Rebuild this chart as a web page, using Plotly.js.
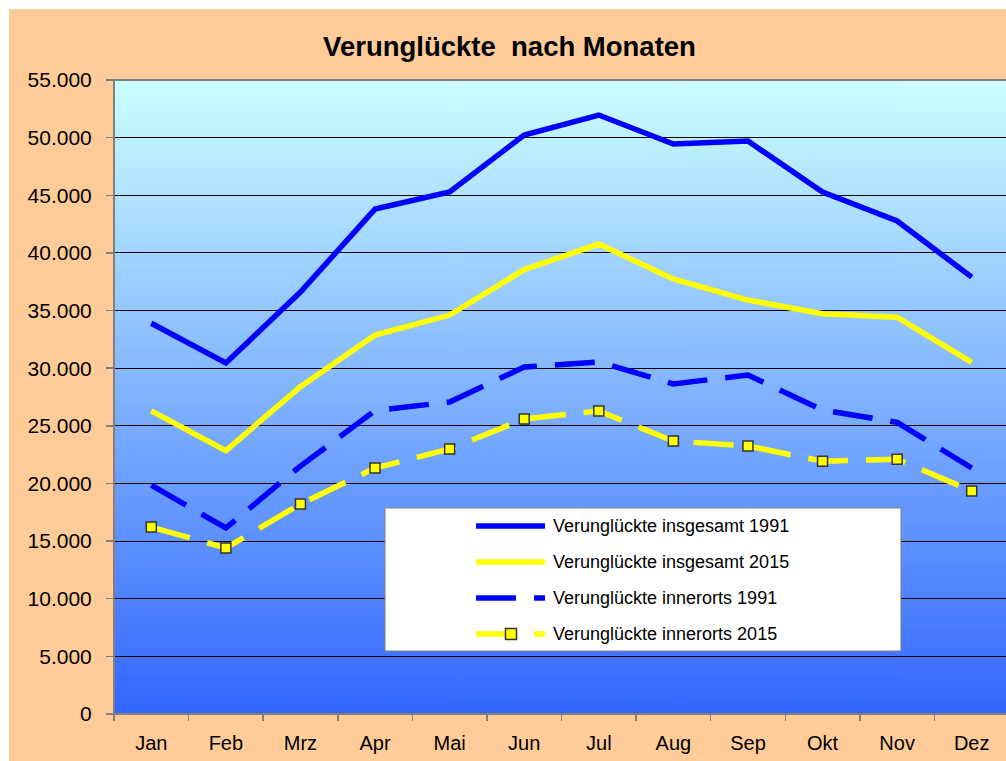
<!DOCTYPE html>
<html>
<head>
<meta charset="utf-8">
<script src="https://cdn.plot.ly/plotly-3.0.1.min.js"></script>
<style>
html,body{margin:0;padding:0;background:#ffffff;overflow:hidden;width:1006px;height:761px;}
#chart{position:absolute;left:9px;top:9px;width:1001px;height:752px;}
</style>
</head>
<body>
<div id="chart"></div>
<script>
// ---- data ----
const months = ["Jan","Feb","Mrz","Apr","Mai","Jun","Jul","Aug","Sep","Okt","Nov","Dez"];
const insgesamt1991 = [33900, 30450, 36600, 43800, 45280, 50230, 51960, 49450, 49700, 45280, 42770, 37900];
const insgesamt2015 = [26300, 22850, 28400, 32880, 34610, 38550, 40770, 37740, 35910, 34720, 34420, 30500];
const innerorts1991 = [19850, 16140, 21510, 26320, 27070, 30100, 30540, 28630, 29410, 26370, 25300, 21340];
const innerorts2015 = [16220, 14400, 18220, 21340, 22990, 25590, 26290, 23680, 23250, 21930, 22100, 19350];
const seriesNames = ["Verunglückte insgesamt 1991","Verunglückte insgesamt 2015","Verunglückte innerorts 1991","Verunglückte innerorts 2015"];
const yTickVals = [0,5000,10000,15000,20000,25000,30000,35000,40000,45000,50000,55000];

// ---- gradient background for plot area ----
const cv = document.createElement('canvas');
cv.width = 4; cv.height = 512;
const ctx = cv.getContext('2d');
const g = ctx.createLinearGradient(0,0,0,512);
g.addColorStop(0,'#CCFFFF');
g.addColorStop(1,'#3366FF');
ctx.fillStyle = g; ctx.fillRect(0,0,4,512);
const gradURL = cv.toDataURL('image/png');

const FONT = '"Liberation Sans", Arial, sans-serif';
const BLUE = '#0000FF', YEL = '#FFFF00';
const LW = 5.5;
const DASH = '40px,18px';

const traces = [
  {x: months, y: insgesamt1991, name: seriesNames[0], mode:'lines', line:{color:BLUE, width:LW}},
  {x: months, y: insgesamt2015, name: seriesNames[1], mode:'lines', line:{color:YEL, width:LW}},
  {x: months, y: innerorts1991, name: seriesNames[2], mode:'lines', line:{color:BLUE, width:LW, dash:DASH}},
  {x: months, y: innerorts2015, name: seriesNames[3], mode:'lines+markers', line:{color:YEL, width:LW, dash:DASH},
   marker:{symbol:'square', size:10, color:YEL, line:{color:'#333333', width:1.5}}}
];

// manual legend (box, samples, labels) in paper coordinates
const legX0 = 0.3028, legX1 = 0.8793, legYT = 0.3249, legYB = 0.0994;
const rowY = [0.2965, 0.2397, 0.1830, 0.1262];
const sX0 = 0.4045, sX1 = 0.4816, tX = 0.4883, mX = 0.4436;
const shapes = [
  {type:'rect', xref:'paper', yref:'paper', x0:0, x1:1, y0:0, y1:1, line:{color:'#808080', width:2}, layer:'above'},
  {type:'rect', xref:'paper', yref:'paper', x0:legX0, x1:legX1, y0:legYB, y1:legYT, fillcolor:'#FFFFFF', line:{color:'#808080', width:1}, layer:'above'},
  {type:'line', xref:'paper', yref:'paper', x0:sX0, x1:sX1, y0:rowY[0], y1:rowY[0], line:{color:BLUE, width:LW}},
  {type:'line', xref:'paper', yref:'paper', x0:sX0, x1:sX1, y0:rowY[1], y1:rowY[1], line:{color:YEL, width:LW}},
  {type:'line', xref:'paper', yref:'paper', x0:sX0, x1:sX1, y0:rowY[2], y1:rowY[2], line:{color:BLUE, width:LW, dash:DASH}},
  {type:'line', xref:'paper', yref:'paper', x0:sX0, x1:sX1, y0:rowY[3], y1:rowY[3], line:{color:YEL, width:LW, dash:DASH}},
  {type:'rect', xref:'paper', yref:'paper', xsizemode:'pixel', ysizemode:'pixel', xanchor:mX, yanchor:rowY[3],
   x0:-5.5, x1:5.5, y0:-5.5, y1:5.5, fillcolor:YEL, line:{color:'#333333', width:1.5}}
];
const annotations = seriesNames.map((n,i)=>({
  xref:'paper', yref:'paper', x:tX, y:rowY[i], xanchor:'left', yanchor:'middle',
  text:n, showarrow:false, font:{family:FONT, size:18, color:'#000000'}
}));

const layout = {
  width:1001, height:752,
  margin:{l:105, r:1, t:71, b:47, pad:0},
  paper_bgcolor:'#FFCC99',
  plot_bgcolor:'#80B3FF',
  separators:',.',
  showlegend:false,
  title:{text:'Verunglückte\u00A0 nach Monaten', font:{family:FONT, size:27.5, color:'#000000', weight:'bold'},
         x:0.5, xref:'container', xanchor:'center', y:1-37/752, yref:'container', yanchor:'middle'},
  xaxis:{type:'category', categoryorder:'array', categoryarray:months, range:[-0.5,11.5],
         showgrid:false, zeroline:false, showline:false,
         ticks:'outside', tickson:'boundaries', ticklen:6, tickcolor:'#808080', tickwidth:1.5,
         tickfont:{family:FONT, size:20, color:'#000000'}, ticklabelstandoff:15},
  yaxis:{range:[0,55000], tickvals:yTickVals, tickformat:',.0f',
         showgrid:true, gridcolor:'#000000', gridwidth:1, zeroline:false, showline:false,
         ticks:'outside', ticklen:7, tickcolor:'#808080', tickwidth:1.5,
         tickfont:{family:FONT, size:21, color:'#000000'}, ticklabelstandoff:10},
  images:[{source:gradURL, xref:'paper', yref:'paper', x:0, y:1, sizex:1, sizey:1,
           sizing:'stretch', xanchor:'left', yanchor:'top', layer:'below'}],
  shapes:shapes,
  annotations:annotations
};

Plotly.newPlot('chart', traces, layout, {displayModeBar:false, staticPlot:true});
</script>
</body>
</html>
